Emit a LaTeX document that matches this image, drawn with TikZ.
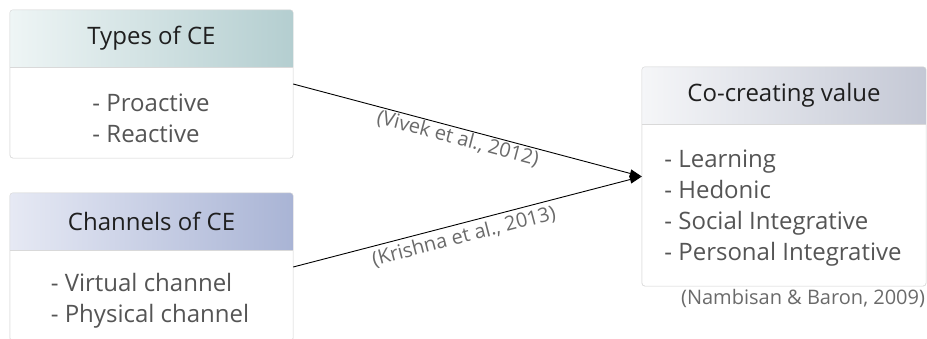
\documentclass[tikz,border=0pt]{standalone}
\usepackage{fontspec}
\setmainfont{Open Sans}
\usetikzlibrary{arrows.meta, positioning, calc}

\definecolor{edgegray}{HTML}{D9D9D9}
\definecolor{headtealL}{HTML}{EEF5F5}
\definecolor{headtealR}{HTML}{B4CED0}
\definecolor{headblueL}{HTML}{E6E9F4}
\definecolor{headblueR}{HTML}{A9B4D5}
\definecolor{headgrayL}{HTML}{F5F6F8}
\definecolor{headgrayR}{HTML}{C4C8D5}
\definecolor{listgray}{HTML}{555555}
\definecolor{citegray}{HTML}{6A6A6A}

\begin{document}
\begin{tikzpicture}[x=1pt, y=-1pt,
    cebox/.style={rectangle, rounded corners=3pt, draw=edgegray, fill=white, minimum width=283pt, inner sep=0pt},
    headtxt/.style={font=\fontsize{24}{29}\selectfont, text=black!88},
    listtxt/.style={font=\fontsize{24}{31}\selectfont, text=listgray, align=left},
    cite/.style={font=\fontsize{20}{24}\selectfont, text=citegray, inner sep=1pt},
    ar/.style={-{Triangle[length=12pt, width=8pt]}, line width=0.9pt}]

\useasboundingbox (0,0) rectangle (927,338);
\clip (0,0) rectangle (927,338);

% Boxes
\node[cebox, minimum height=148pt] (types) at (151.5,84) {};
\node[cebox, minimum height=148pt] (channels) at (151.5,267) {};
\node[cebox, minimum width=284pt, minimum height=219pt] (value) at (784,176.5) {};

% Header bands
\foreach \bx/\lc/\rc in {types/headtealL/headtealR, channels/headblueL/headblueR, value/headgrayL/headgrayR} {
  \begin{scope}
    \clip[rounded corners=3pt] (\bx.south west) rectangle (\bx.north east);
    \shade[left color=\lc, right color=\rc] (\bx.north west) rectangle ([yshift=-57pt]\bx.north east);
  \end{scope}
  \draw[edgegray] ([yshift=-57pt]\bx.north west) -- ([yshift=-57pt]\bx.north east);
  \draw[edgegray, rounded corners=3pt] (\bx.south west) rectangle (\bx.north east);
}

% Titles
\node[headtxt] (typestitle) at ([yshift=-28.5pt]types.north) {Types of CE};
\node[headtxt] (channelstitle) at ([yshift=-28.5pt]channels.north) {Channels of CE};
\node[headtxt] (valuetitle) at ([yshift=-28.5pt]value.north) {Co-creating value};

% Lists
\node[listtxt] (typeslist) at (151,118) {- Proactive\\- Reactive};
\node[listtxt] (channelslist) at (150,301) {- Virtual channel\\- Physical channel};
\node[listtxt] (valuelist) at (783,208) {- Learning\\- Hedonic\\- Social Integrative\\- Personal Integrative};

% Arrows
\draw[ar] (types.east) -- node[cite, sloped, below, pos=0.48] (vivek) {(Vivek et al., 2012)} (value.west);
\draw[ar] (channels.east) -- node[cite, sloped, below=3pt, pos=0.48] (krishna) {(Krishna et al., 2013)} (value.west);

% Source
\node[cite, anchor=north east] (nambisan) at ([yshift=-2pt]value.south east) {(Nambisan \& Baron, 2009)};

\end{tikzpicture}
\end{document}
